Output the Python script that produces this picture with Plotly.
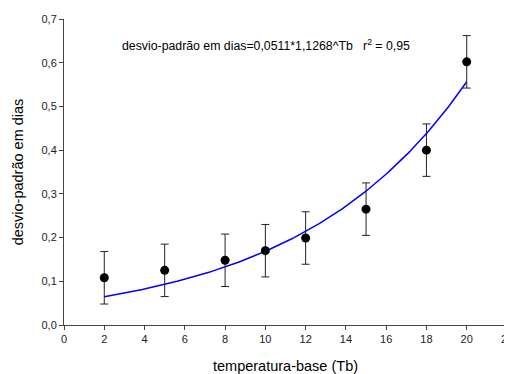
import numpy as np
import plotly.graph_objects as go

tb = [2, 5, 8, 10, 12, 15, 18, 20]
desvio = [0.108, 0.125, 0.148, 0.170, 0.199, 0.265, 0.400, 0.602]
erro = [0.06, 0.06, 0.06, 0.06, 0.06, 0.06, 0.06, 0.06]

fit_a = 0.0511
fit_b = 1.1268
fit_x = np.linspace(2, 20, 200)
fit_y = fit_a * fit_b ** fit_x

FONT = "Liberation Sans, Arial"

fig = go.Figure()
fig.add_trace(go.Scatter(x=fit_x, y=fit_y, mode="lines",
                         line=dict(color="#0000ff", width=1.5),
                         showlegend=False, hoverinfo="skip"))
fig.add_trace(go.Scatter(x=tb, y=desvio, mode="markers",
                         marker=dict(color="black", size=9),
                         error_y=dict(type="data", array=erro, visible=True,
                                      color="#222222", thickness=1, width=4),
                         showlegend=False))

plot_l, plot_r, plot_t, plot_b = 56, 504 - 5, 11, 366 - 49
fig.add_annotation(x=(266 - 8 - plot_l) / (plot_r - plot_l),
                   y=(plot_b - (45 - 8)) / (plot_b - plot_t),
                   xref="paper", yref="paper",
                   showarrow=False, xanchor="center", yanchor="middle",
                   text="desvio-padrão em dias=0,0511*1,1268^Tb   r<sup>2</sup> = 0,95",
                   font=dict(family=FONT, size=12.3, color="black"))

axis_common = dict(showline=True, linecolor="#444444", linewidth=1,
                   ticks="outside", ticklen=4, tickcolor="#444444",
                   showgrid=False, zeroline=False, automargin=False,
                   ticklabeloverflow="allow",
                   tickfont=dict(family=FONT, size=11, color="#222222"))

fig.update_layout(
    width=504, height=366,
    margin=dict(l=56, r=5, t=11, b=49),
    plot_bgcolor="white", paper_bgcolor="white",
    separators=",.",
    xaxis=dict(range=[0, 22], dtick=2, tick0=0,
               title=dict(text="temperatura-base (Tb)", standoff=17,
                          font=dict(family=FONT, size=14.5, color="black")),
               **axis_common),
    yaxis=dict(range=[0, 0.7], dtick=0.1, tick0=0, tickformat=".1f",
               title=dict(text="desvio-padrão em dias", standoff=14,
                          font=dict(family=FONT, size=14.5, color="black")),
               **axis_common),
)
fig.write_html("out.html")
